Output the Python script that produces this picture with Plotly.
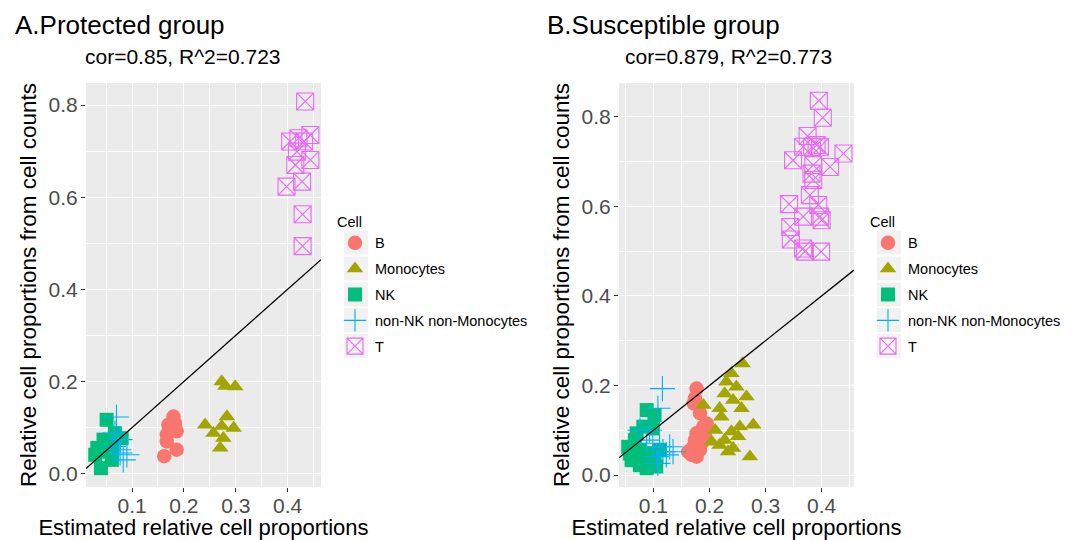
import plotly.graph_objects as go

# ---------------- data ----------------
cell_types = ["B", "Monocytes", "NK", "non-NK non-Monocytes", "T"]
colors = {"B": "#F8766D", "Monocytes": "#A3A500", "NK": "#00BF7D",
          "non-NK non-Monocytes": "#00B0F6", "T": "#E76BF3"}

# Panel A: Protected group  (estimated x, counted y)
a_B_x = [0.180, 0.170, 0.186, 0.167, 0.167, 0.186, 0.162, 0.183]
a_B_y = [0.124, 0.106, 0.092, 0.085, 0.070, 0.052, 0.038, 0.110]
a_Mono_x = [0.273, 0.299, 0.280, 0.241, 0.283, 0.273, 0.296, 0.257, 0.276, 0.270]
a_Mono_y = [0.200, 0.189, 0.190, 0.106, 0.124, 0.103, 0.099, 0.088, 0.077, 0.056]
a_NK_x = [0.051, 0.067, 0.080, 0.045, 0.033, 0.051, 0.061, 0.040, 0.029, 0.061]
a_NK_y = [0.117, 0.088, 0.077, 0.074, 0.056, 0.048, 0.030, 0.012, 0.041, 0.059]
a_Other_x = [0.070, 0.067, 0.077, 0.064, 0.090, 0.077, 0.083, 0.074]
a_Other_y = [0.123, 0.088, 0.074, 0.059, 0.041, 0.045, 0.030, 0.052]
a_T_x = [0.434, 0.444, 0.405, 0.421, 0.432, 0.418, 0.415, 0.444, 0.398, 0.428, 0.429, 0.429]
a_T_y = [0.808, 0.735, 0.721, 0.728, 0.721, 0.699, 0.670, 0.681, 0.623, 0.634, 0.563, 0.494]

# Panel B: Susceptible group
b_B_x = [0.177, 0.174, 0.183, 0.189, 0.195, 0.177, 0.192, 0.174, 0.171, 0.183,
         0.162, 0.177, 0.168, 0.186, 0.172]
b_B_y = [0.193, 0.171, 0.138, 0.108, 0.115, 0.093, 0.086, 0.078, 0.063, 0.056,
         0.052, 0.041, 0.045, 0.071, 0.160]
b_Mono_x = [0.259, 0.239, 0.230, 0.248, 0.227, 0.266, 0.189, 0.242, 0.218, 0.257,
            0.278, 0.221, 0.210, 0.239, 0.251, 0.227, 0.204, 0.218, 0.242, 0.272,
            0.233, 0.254]
b_Mono_y = [0.249, 0.227, 0.208, 0.197, 0.182, 0.175, 0.156, 0.167, 0.149, 0.149,
            0.112, 0.130, 0.100, 0.097, 0.086, 0.078, 0.074, 0.067, 0.060, 0.041,
            0.052, 0.108]
b_NK_x = [0.088, 0.102, 0.099, 0.082, 0.067, 0.055, 0.076, 0.093, 0.061, 0.076,
          0.105, 0.088, 0.070, 0.111, 0.058, 0.082, 0.102]
b_NK_y = [0.145, 0.134, 0.104, 0.108, 0.078, 0.063, 0.056, 0.048, 0.033, 0.022,
          0.019, 0.015, 0.093, 0.056, 0.048, 0.041, 0.033]
b_Other_x = [0.116, 0.108, 0.093, 0.099, 0.111, 0.117, 0.135, 0.105, 0.123, 0.108,
             0.088, 0.076, 0.129]
b_Other_y = [0.193, 0.149, 0.100, 0.071, 0.063, 0.052, 0.052, 0.041, 0.045, 0.026,
             0.078, 0.100, 0.063]
b_T_x = [0.395, 0.402, 0.375, 0.367, 0.383, 0.391, 0.397, 0.439, 0.349, 0.415,
         0.385, 0.382, 0.385, 0.379, 0.342, 0.394, 0.367, 0.397, 0.400, 0.344,
         0.345, 0.367, 0.370, 0.399]
b_T_y = [0.836, 0.798, 0.757, 0.733, 0.733, 0.737, 0.733, 0.718, 0.703, 0.688,
         0.692, 0.673, 0.659, 0.625, 0.605, 0.603, 0.577, 0.577, 0.569, 0.554,
         0.526, 0.506, 0.499, 0.499]

# identity reference line (abline slope / intercept)
abline_slope = 1.0
abline_intercept = 0.0

titles = ["A.Protected group", "B.Susceptible group"]
subtitles = ["cor=0.85, R^2=0.723", "cor=0.879, R^2=0.773"]
x_title = "Estimated relative cell proportions"
y_title = "Relative cell proportions from cell counts"
legend_title = "Cell"

panels = [
    {"B": (a_B_x, a_B_y), "Monocytes": (a_Mono_x, a_Mono_y), "NK": (a_NK_x, a_NK_y),
     "non-NK non-Monocytes": (a_Other_x, a_Other_y), "T": (a_T_x, a_T_y)},
    {"B": (b_B_x, b_B_y), "Monocytes": (b_Mono_x, b_Mono_y), "NK": (b_NK_x, b_NK_y),
     "non-NK non-Monocytes": (b_Other_x, b_Other_y), "T": (b_T_x, b_T_y)},
]

# ---------------- styling ----------------
W, H = 1073, 540
FONT = "Liberation Sans, Arial, Helvetica, sans-serif"
symbols = {"B": "circle", "Monocytes": "triangle-up", "NK": "square",
           "non-NK non-Monocytes": "cross-thin-open", "T": "square-x-open"}
sizes = {"B": 14.5, "Monocytes": 14.5, "NK": 14, "non-NK non-Monocytes": 18, "T": 17}

x_px = [(86, 321), (619, 854)]
y_px = (83, 487)
x_ranges = [(0.0112, 0.4645), (0.0386, 0.4577)]
y_ranges = [(-0.0289, 0.848), (-0.0268, 0.8755)]

fig = go.Figure()
for p, data in enumerate(panels):
    ax = "" if p == 0 else "2"
    leg = "legend" if p == 0 else "legend2"
    for ct in cell_types:
        xs, ys = data[ct]
        open_sym = symbols[ct].endswith("open")
        fig.add_trace(go.Scatter(
            x=xs, y=ys, mode="markers", name=ct,
            xaxis="x" + ax, yaxis="y" + ax, legend=leg, legendgroup=ct + ax,
            marker=dict(symbol=symbols[ct], size=sizes[ct], color=colors[ct],
                        line=dict(width=1.1 if open_sym else 0, color=colors[ct]))))
    x0, x1 = x_ranges[p]
    fig.add_trace(go.Scatter(
        x=[x0, x1], y=[abline_intercept + abline_slope * x0, abline_intercept + abline_slope * x1],
        mode="lines", line=dict(color="black", width=1.3), showlegend=False,
        xaxis="x" + ax, yaxis="y" + ax, hoverinfo="skip"))

common_axis = dict(showgrid=True, gridcolor="white", gridwidth=1.3, zeroline=False,
                   showline=False, ticks="outside", ticklen=4, tickwidth=1.1,
                   tickcolor="#333333", tickfont=dict(size=21, color="#4D4D4D", family=FONT),
                   automargin=False)

layout = dict(width=W, height=H, margin=dict(l=0, r=0, t=0, b=0),
              paper_bgcolor="white", plot_bgcolor="#EBEBEB",
              font=dict(family=FONT, color="black"), showlegend=True)

for p in range(2):
    sfx = "" if p == 0 else "2"
    xa = dict(common_axis)
    xa.update(domain=[x_px[p][0] / W, x_px[p][1] / W], range=list(x_ranges[p]),
              tick0=0, dtick=0.1, ticklabelstandoff=-4,
              minor=dict(showgrid=True, gridcolor="white", gridwidth=0.6, dtick=0.05, tick0=0),
              anchor="y" + sfx,
              title=dict(text=x_title, font=dict(size=22, color="black"), standoff=3))
    ya = dict(common_axis)
    ya.update(domain=[1 - y_px[1] / H, 1 - y_px[0] / H], range=list(y_ranges[p]),
              tick0=0, dtick=0.2, tickformat=".1f", ticklabelstandoff=-1,
              minor=dict(showgrid=True, gridcolor="white", gridwidth=0.6, dtick=0.1, tick0=0),
              anchor="x" + sfx,
              title=dict(text=y_title, font=dict(size=22.5, color="black"), standoff=5))
    layout["xaxis" + sfx] = xa
    layout["yaxis" + sfx] = ya

legend_left = [335, 868]
for p in range(2):
    key = "legend" if p == 0 else "legend2"
    layout[key] = dict(x=legend_left[p] / W, y=1 - 208 / H, xanchor="left", yanchor="top",
                       bgcolor="rgba(0,0,0,0)", font=dict(size=14.5, color="black"),
                       title=dict(text=legend_title, font=dict(size=14.5)),
                       traceorder="grouped", tracegroupgap=4, itemwidth=30,
                       itemclick=False)

fig.update_layout(**layout)

# titles
title_left = [12.7, 545]
sub_center = [182.5, 728.5]
for p in range(2):
    fig.add_annotation(text=titles[p], xref="paper", yref="paper", x=title_left[p] / W,
                       y=1 - 25 / H, xanchor="left", yanchor="middle", showarrow=False,
                       font=dict(size=26, color="black"))
    fig.add_annotation(text=subtitles[p], xref="paper", yref="paper", x=sub_center[p] / W,
                       y=1 - 57 / H, xanchor="center", yanchor="middle", showarrow=False,
                       font=dict(size=21, color="black"))

# grey legend key backgrounds
key_left = [344, 877]
item_centers = [242.5, 268.5, 294.5, 320.0, 346.0]
for p in range(2):
    for c in item_centers:
        fig.add_shape(type="rect", xref="paper", yref="paper",
                      x0=key_left[p] / W, x1=(key_left[p] + 24) / W,
                      y0=1 - (c + 12) / H, y1=1 - (c - 12) / H,
                      fillcolor="#F2F2F2", line=dict(width=0), layer="below")

fig.write_html("out.html", config={"displayModeBar": False},
               post_script="document.body.style.margin='0';")
